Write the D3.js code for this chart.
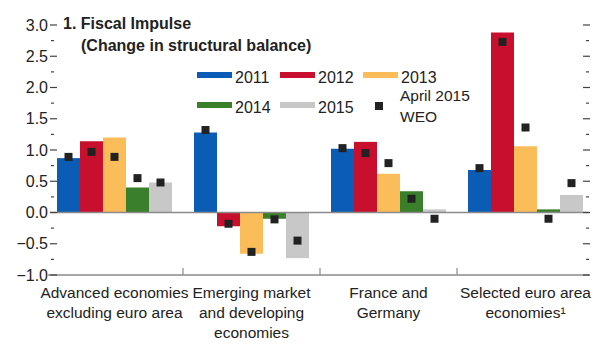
<!DOCTYPE html>
<html>
<head>
<meta charset="utf-8">
<script src="https://cdn.jsdelivr.net/npm/d3@7"></script>
<style>
  body { margin: 0; background: #fff; }
  svg text { font-family: "Liberation Sans", Arial, sans-serif; fill: #222; }
</style>
</head>
<body>
<svg id="chart" width="616" height="346"></svg>
<script>
const categories = [
  ["Advanced economies", "excluding euro area"],
  ["Emerging market", "and developing", "economies"],
  ["France and", "Germany"],
  ["Selected euro area", "economies\u00b9"],
];
const years = ["2011", "2012", "2013", "2014", "2015"];
const colors = ["#0b5cb5", "#c8102e", "#fbbd5a", "#3a7f2b", "#c8c8c8"];

// bars, one row per category, one value per year
const values = [
  [0.87, 1.14, 1.20, 0.40, 0.48],
  [1.28, -0.22, -0.66, -0.10, -0.73],
  [1.02, 1.13, 0.62, 0.34, 0.05],
  [0.68, 2.88, 1.06, 0.05, 0.28],
];
// April 2015 WEO markers
const weo = [
  [0.89, 0.97, 0.89, 0.55, 0.48],
  [1.32, -0.18, -0.63, -0.11, -0.45],
  [1.03, 0.95, 0.79, 0.22, -0.10],
  [0.71, 2.73, 1.36, -0.10, 0.47],
];
const yTicks = [-1, -0.5, 0, 0.5, 1, 1.5, 2, 2.5, 3];
const yMinor = [-0.75, -0.25, 0.25, 0.75, 1.25, 1.75, 2.25, 2.75];

const svg = d3.select("#chart");
const catIdx = d3.range(categories.length);

const x = d3.scaleBand().domain(catIdx).range([46, 594]);
const x1 = d3.scaleBand().domain(years).range([11, 126]);
const y = d3.scaleLinear().domain([-1, 3]).range([275, 25]);

const axisColor = "#8a8a8a";
const fs = "15.5px";

// bars
const groups = svg.selectAll(".grp")
  .data(catIdx)
  .join("g")
  .attr("class", "grp")
  .attr("transform", (i) => `translate(${x(i)},0)`);

groups.selectAll("rect")
  .data((i) => values[i].map((v, j) => ({ v, j })))
  .join("rect")
  .attr("x", (d) => x1(years[d.j]))
  .attr("width", x1.bandwidth())
  .attr("y", (d) => y(Math.max(0, d.v)))
  .attr("height", (d) => Math.abs(y(d.v) - y(0)))
  .attr("fill", (d) => colors[d.j]);

// zero line
svg.append("line")
  .attr("x1", 50).attr("x2", 589)
  .attr("y1", y(0)).attr("y2", y(0))
  .attr("stroke", axisColor).attr("stroke-width", 1.5);

// markers
const ms = 8;
groups.selectAll(".weo")
  .data((i) => weo[i].map((v, j) => ({ v, j })))
  .join("rect")
  .attr("class", "weo")
  .attr("x", (d) => x1(years[d.j]) + x1.bandwidth() / 2 - ms / 2)
  .attr("y", (d) => y(d.v) - ms / 2)
  .attr("width", ms).attr("height", ms)
  .attr("fill", "#222");

// bottom axis
svg.append("line")
  .attr("x1", 48).attr("x2", 589)
  .attr("y1", y(-1)).attr("y2", y(-1))
  .attr("stroke", axisColor).attr("stroke-width", 1.5);
svg.selectAll(".sep")
  .data(catIdx.slice(1))
  .join("line")
  .attr("class", "sep")
  .attr("x1", (i) => x(i)).attr("x2", (i) => x(i))
  .attr("y1", y(-1) - 7).attr("y2", y(-1))
  .attr("stroke", axisColor).attr("stroke-width", 1.2);

// y axes, left with labels, right ticks only
const left = svg.append("g");
left.selectAll(".maj")
  .data(yTicks)
  .join("line")
  .attr("x1", 50).attr("x2", 57)
  .attr("y1", (d) => y(d)).attr("y2", (d) => y(d))
  .attr("stroke", "#444").attr("stroke-width", 1.2);
left.selectAll(".min")
  .data(yMinor)
  .join("line")
  .attr("x1", 51).attr("x2", 54)
  .attr("y1", (d) => y(d)).attr("y2", (d) => y(d))
  .attr("stroke", "#444").attr("stroke-width", 1.2);
left.selectAll("text")
  .data(yTicks)
  .join("text")
  .attr("x", 48)
  .attr("y", (d) => y(d) + 5.5)
  .attr("text-anchor", "end")
  .style("font-size", "16px")
  .text((d) => d3.format(".1f")(d).replace("-", "\u2013"));

const right = svg.append("g");
right.selectAll(".maj")
  .data(yTicks)
  .join("line")
  .attr("x1", 583).attr("x2", 590)
  .attr("y1", (d) => y(d)).attr("y2", (d) => y(d))
  .attr("stroke", "#444").attr("stroke-width", 1.2);
right.selectAll(".min")
  .data(yMinor)
  .join("line")
  .attr("x1", 586).attr("x2", 589)
  .attr("y1", (d) => y(d)).attr("y2", (d) => y(d))
  .attr("stroke", "#444").attr("stroke-width", 1.2);

// category labels
groups.append("text")
  .attr("x", x.bandwidth() / 2)
  .attr("text-anchor", "middle")
  .style("font-size", fs)
  .selectAll("tspan")
  .data((i) => categories[i])
  .join("tspan")
  .attr("x", x.bandwidth() / 2)
  .attr("y", (d, k) => 298 + k * 20)
  .text((d) => d);

// title
svg.append("text").attr("x", 63).attr("y", 29)
  .style("font-size", "16px").style("font-weight", "bold")
  .text("1. Fiscal Impulse");
svg.append("text").attr("x", 81).attr("y", 51)
  .style("font-size", "16px").style("font-weight", "bold")
  .text("(Change in structural balance)");

// legend
const legendPos = [[197, 72], [280, 72], [363, 72], [197, 102], [280, 102]];
const lg = svg.append("g");
years.forEach((yr, j) => {
  const [lx, ly] = legendPos[j];
  lg.append("rect").attr("x", lx).attr("y", ly).attr("width", 35).attr("height", 6).attr("fill", colors[j]);
  lg.append("text").attr("x", lx + 38).attr("y", ly + 11).style("font-size", "16px").text(yr);
});
lg.append("rect").attr("x", 375).attr("y", 102).attr("width", 8).attr("height", 8).attr("fill", "#222");
lg.append("text").attr("x", 400).attr("y", 101).style("font-size", fs).text("April 2015");
lg.append("text").attr("x", 400).attr("y", 122).style("font-size", fs).text("WEO");
</script>
</body>
</html>
